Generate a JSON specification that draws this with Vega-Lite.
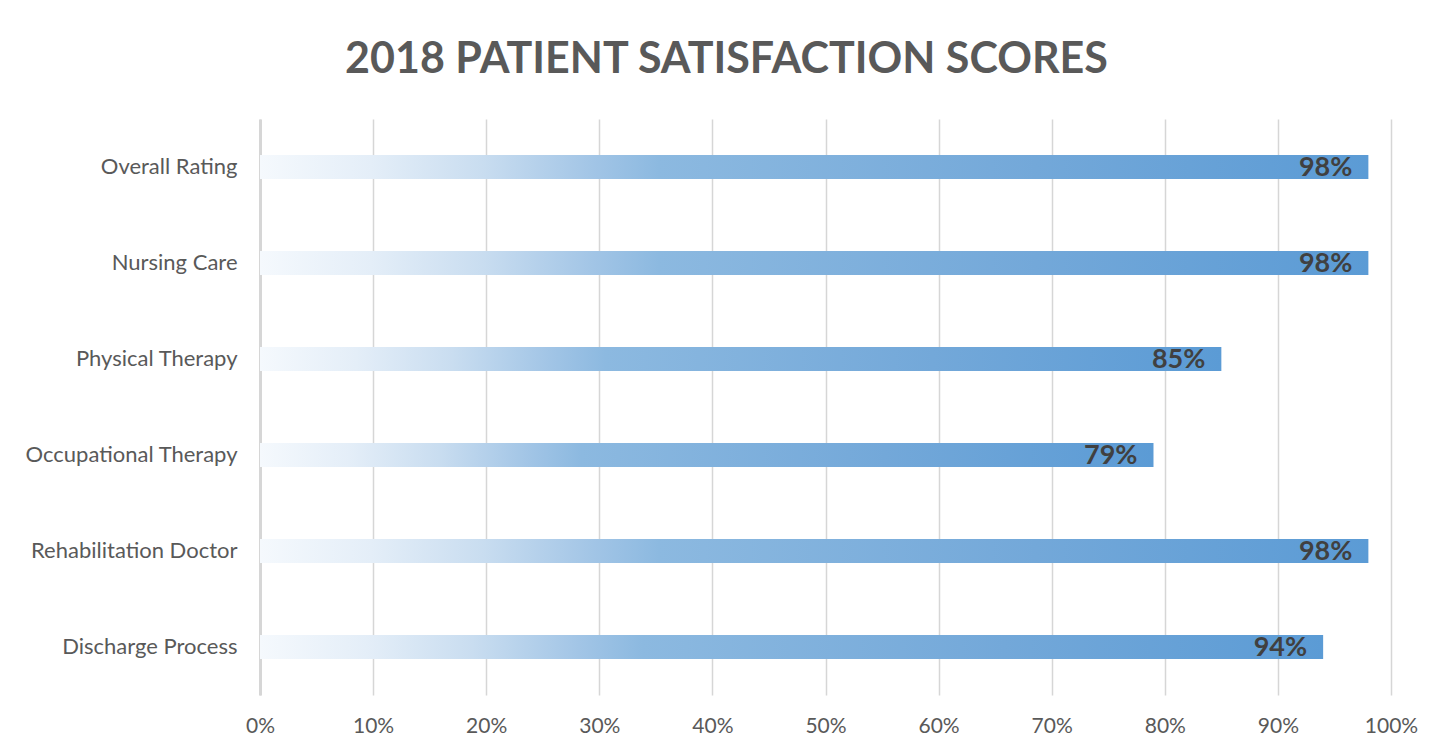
{
  "$schema": "https://vega.github.io/schema/vega-lite/v6.json",
  "width": 1131,
  "height": 576,
  "autosize": {"type": "none"},
  "padding": {"left": 260, "top": 119, "right": 61, "bottom": 59},
  "background": "white",
  "title": {
    "text": "2018 PATIENT SATISFACTION SCORES",
    "anchor": "middle",
    "frame": "group",
    "dx": -99,
    "offset": 3,
    "baseline": "alphabetic",
    "font": "Lato",
    "fontSize": 43,
    "fontWeight": "bold",
    "color": "#595959"
  },
  "config": {
    "view": {"stroke": null},
    "font": "Lato"
  },
  "data": {
    "values": [
      {"category": "Overall Rating\u00a0", "score": 0.98, "label": "98%"},
      {"category": "Nursing Care", "score": 0.98, "label": "98%"},
      {"category": "Physical Therapy", "score": 0.85, "label": "85%"},
      {"category": "Occupational Therapy", "score": 0.79, "label": "79%"},
      {"category": "Rehabilitation Doctor", "score": 0.98, "label": "98%"},
      {"category": "Discharge Process", "score": 0.94, "label": "94%"}
    ]
  },
  "encoding": {
    "y": {
      "field": "category",
      "type": "nominal",
      "sort": null,
      "title": null,
      "scale": {"paddingInner": 0.75, "paddingOuter": 0.375},
      "axis": {
        "domain": true,
        "domainColor": "#d6d6d6",
        "domainWidth": 3,
        "ticks": false,
        "labelFont": "Lato",
        "labelFontSize": 22,
        "labelColor": "#595959",
        "labelPadding": 23,
        "labelLimit": 400,
        "grid": false
      }
    },
    "x": {
      "field": "score",
      "type": "quantitative",
      "title": null,
      "scale": {"domain": [0, 1], "nice": false},
      "axis": {
        "format": ".0%",
        "values": [0, 0.1, 0.2, 0.3, 0.4, 0.5, 0.6, 0.7, 0.8, 0.9, 1],
        "labelOverlap": false,
        "labelFlush": false,
        "domain": false,
        "ticks": false,
        "grid": true,
        "gridColor": "#d6d6d6",
        "gridWidth": 1.5,
        "labelFont": "Lato",
        "labelFontSize": 21,
        "labelColor": "#595959",
        "labelPadding": 20
      }
    }
  },
  "layer": [
    {
      "mark": {
        "type": "bar",
        "fill": {
          "gradient": "linear",
          "x1": 0, "x2": 1, "y1": 0, "y2": 0,
          "stops": [
            {"offset": 0, "color": "#f5f9fd"},
            {"offset": 0.1, "color": "#e4eef8"},
            {"offset": 0.2, "color": "#c9ddf0"},
            {"offset": 0.3, "color": "#a2c5e6"},
            {"offset": 0.36, "color": "#8cb9e0"},
            {"offset": 0.7, "color": "#73a8d9"},
            {"offset": 1, "color": "#5b9bd5"}
          ]
        }
      }
    },
    {
      "mark": {
        "type": "text",
        "align": "right",
        "baseline": "middle",
        "dx": -16,
        "dy": 1,
        "font": "Lato",
        "fontSize": 27,
        "fontWeight": "bold",
        "color": "#404040"
      },
      "encoding": {
        "text": {"field": "label"}
      }
    }
  ]
}
